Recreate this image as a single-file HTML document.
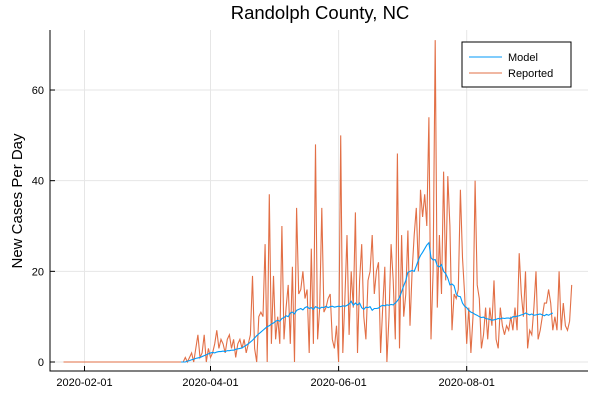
<!DOCTYPE html>
<html><head><meta charset="utf-8"><style>
body{margin:0;background:#fff;}
svg text{font-family:"Liberation Sans","DejaVu Sans",sans-serif;}
</style></head><body>
<svg id="chart" width="600" height="400" xmlns="http://www.w3.org/2000/svg">
<rect width="600" height="400" fill="#fff"/>
<text x="320" y="19" font-size="18.5" text-anchor="middle">Randolph County, NC</text>
<text transform="translate(22,201) rotate(-90)" font-size="15" text-anchor="middle">New Cases Per Day</text>
<g id="grid"></g><g id="axes"></g><g id="series"></g>
<g>
<rect x="462" y="42" width="109" height="45" fill="#fff" stroke="#000" stroke-width="1"/>
<line x1="469" y1="57" x2="502" y2="57" stroke="#009af9" stroke-width="1.1"/>
<text x="508" y="61" font-size="11">Model</text>
<line x1="469" y1="73" x2="502" y2="73" stroke="#e26f46" stroke-width="1.1"/>
<text x="508" y="77" font-size="11">Reported</text>
</g>
</svg>
<script>
const startDate = "2020-01-22";
const reportedLead = new Array(56).fill(0);
const reported = [0,0,1,0,1,2,0,3,6,1,2,6,0,3,1,2,4,7,3,5,4,2,5,6,3,5,1,4,5,3,5,2,4,6,19,3,0,10,11,10,26,0,37,4,19,5,10,4,30,5,12,17,4,21,0,34,15,16,20,14,16,2,25,4,48,5,12,34,11,12,14,15,5,3,8,0,50,2,14,28,6,20,12,33,2,18,26,10,5,18,20,28,15,20,22,2,12,21,0,10,26,18,5,46,3,28,10,15,29,8,20,28,34,20,38,32,37,30,54,5,20,71,12,28,15,42,18,41,30,7,15,14,16,38,23,15,4,12,2,10,40,17,14,3,6,12,5,12,8,18,5,3,12,8,6,8,7,10,7,12,7,24,15,10,20,3,7,6,12,20,5,7,10,13,13,16,13,7,10,7,20,7,13,8,7,9,17];
const model = [0,0,0,0.2,0.3,0.5,0.6,0.8,0.9,1.0,1.2,1.4,1.6,1.8,2.0,2.1,2.0,2.2,2.3,2.3,2.4,2.3,2.5,2.5,2.6,2.6,2.8,2.9,3.0,3.1,3.4,3.7,4.0,4.4,4.8,5.3,5.8,6.2,6.6,7.0,7.4,7.8,8.0,8.4,8.6,9.0,9.2,9.0,9.6,9.8,10.2,10.0,10.8,11.0,10.6,11.4,11.6,11.8,11.5,12.0,12.2,11.8,12.0,11.6,12.2,12.0,11.8,12.1,12.0,12.3,12.0,12.2,12.3,12.1,12.2,12.3,12.2,12.4,12.3,12.5,12.8,13.4,12.5,13.0,12.6,13.0,12.0,11.6,12.1,12.0,12.2,11.4,11.8,11.8,11.9,12.3,12.5,12.4,12.6,12.5,12.7,12.6,13.0,13.5,14.2,15.5,16.8,18.0,19.8,20.0,20.2,20.0,21.2,22.5,23.5,24.2,25.0,25.8,26.3,23.0,22.5,22.6,21.2,21.0,21.5,20.0,19.5,18.5,17.0,17.2,16.8,15.0,14.5,14.4,13.0,12.3,12.0,11.4,11.0,10.8,10.5,10.3,10.0,9.8,9.9,9.6,9.5,9.4,9.2,9.3,9.4,9.6,9.5,9.7,9.6,9.7,9.7,9.6,10.0,10.0,10.1,10.2,10.4,10.5,10.8,10.6,10.4,10.6,10.3,10.4,10.5,10.6,10.4,10.2,10.5,10.3,10.6,10.8];
const modelStartDay = 56;
const yTicks = [0,20,40,60];
const xTickLabels = ["2020-02-01","2020-04-01","2020-06-01","2020-08-01"];

const NS="http://www.w3.org/2000/svg";
const L=50,R=588,T=30,B=371;
const t0=Date.parse(startDate);
const dayOf=s=>(Date.parse(s)-t0)/86400000;
const xs=d=>84.5+(d-10)*2.1;
const ys=v=>362-v*4.533;
function mk(tag,attrs,parent){const e=document.createElementNS(NS,tag);for(const k in attrs)e.setAttribute(k,attrs[k]);document.getElementById(parent).appendChild(e);return e;}
yTicks.forEach(v=>{
  const g=mk('line',{x1:L,x2:R,y1:ys(v),y2:ys(v),stroke:'#e6e6e6','stroke-width':1},'grid');
  
  
  const tk=mk('line',{x1:L,x2:L+5,y1:ys(v),y2:ys(v),stroke:'#000'},'axes');
  
  
  const t=mk('text',{x:L-6,y:ys(v)+4,'font-size':11,'text-anchor':'end'},'axes');t.textContent=v;
  
  
});
xTickLabels.forEach(s=>{
  const x=xs(dayOf(s));
  const g=mk('line',{x1:x,x2:x,y1:T,y2:B,stroke:'#e6e6e6','stroke-width':1},'grid');
  
  
  const tk=mk('line',{x1:x,x2:x,y1:B,y2:B-5,stroke:'#000'},'axes');
  
  
  const t=mk('text',{x:x,y:B+15,'font-size':11,'text-anchor':'middle'},'axes');t.textContent=s;
  
  
});
const ax=mk('path',{d:`M${L},${T}V${B}H${R}`,fill:'none',stroke:'#000','stroke-width':1},'axes');


const rep=reportedLead.concat(reported);
const rp=mk('polyline',{points:rep.map((v,i)=>xs(i)+','+ys(v)).join(' '),fill:'none',stroke:'#e26f46','stroke-width':1.1},'series');


const mp=mk('polyline',{points:model.map((v,i)=>xs(i+modelStartDay)+','+ys(v)).join(' '),fill:'none',stroke:'#009af9','stroke-width':1.1},'series');


</script>
</body></html>
